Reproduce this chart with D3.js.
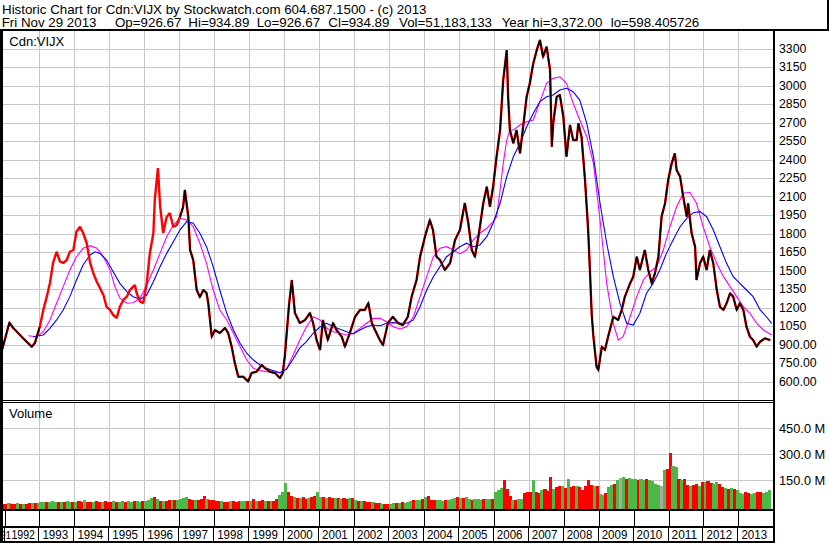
<!DOCTYPE html>
<html><head><meta charset="utf-8">
<script src="https://cdn.jsdelivr.net/npm/d3@7"></script>
<style>
body{margin:0;background:#fff}
svg{display:block}
text{font-family:"Liberation Sans",Arial,sans-serif;fill:#000}
</style>
</head><body>
<svg id="chart" width="830" height="543"></svg>
<script>
// ---------------- DATA ----------------
const titleText = "Historic Chart for Cdn:VIJX by Stockwatch.com 604.687.1500 - (c) 2013";
const infoItems = ["Fri Nov 29 2013","Op=926.67","Hi=934.89","Lo=926.67","Cl=934.89","Vol=51,183,133","Year hi=3,372.00","lo=598.405726"];
const symbolLabel = "Cdn:VIJX";
const volumeLabel = "Volume";

const priceTicks = [3300,3150,3000,2850,2700,2550,2400,2250,2100,1950,1800,1650,1500,1350,1200,1050,900,750,600];
const priceTickLabels = ["3300","3150","3000","2850","2700","2550","2400","2250","2100","1950","1800","1650","1500","1350","1200","1050","900.00","750.00","600.00"];
const volTicks = [450,300,150];
const volTickLabels = ["450.0 M","300.0 M","150.0 M"];
const yearTicks = [1992,1993,1994,1995,1996,1997,1998,1999,2000,2001,2002,2003,2004,2005,2006,2007,2008,2009,2010,2011,2012,2013];
const yearLabels = ["1992","1993","1994","1995","1996","1997","1998","1999","2000","2001","2002","2003","2004","2005","2006","2007","2008","2009","2010","2011","2012","2013"];
const firstPartialLabel = "91";

// price trace [decimal year, price]
const price = [[1991.93,855],[1992.06,993],[1992.14,1077],[1992.25,1034],[1992.39,993],[1992.49,963],[1992.63,923],[1992.78,882],[1992.87,912],[1993.01,1044],[1993.11,1180],[1993.21,1288],[1993.30,1399],[1993.39,1561],[1993.49,1652],[1993.59,1571],[1993.68,1561],[1993.78,1585],[1993.87,1652],[1993.97,1666],[1994.06,1815],[1994.16,1855],[1994.25,1804],[1994.35,1723],[1994.45,1561],[1994.54,1480],[1994.64,1409],[1994.73,1358],[1994.83,1301],[1994.92,1206],[1995.02,1180],[1995.11,1139],[1995.21,1115],[1995.30,1206],[1995.40,1261],[1995.50,1288],[1995.59,1342],[1995.68,1369],[1995.73,1382],[1995.78,1318],[1995.88,1247],[1995.97,1236],[1996.07,1399],[1996.16,1642],[1996.26,1804],[1996.30,2072],[1996.39,2331],[1996.45,2031],[1996.54,1804],[1996.64,1934],[1996.73,1966],[1996.83,1853],[1996.93,1869],[1997.02,1934],[1997.11,2015],[1997.16,2153],[1997.26,1934],[1997.31,1666],[1997.40,1585],[1997.50,1342],[1997.59,1285],[1997.69,1342],[1997.78,1318],[1997.83,1236],[1997.88,1099],[1997.93,963],[1998.02,1018],[1998.16,993],[1998.31,1034],[1998.40,993],[1998.50,882],[1998.59,750],[1998.69,639],[1998.83,639],[1998.97,600],[1999.07,669],[1999.21,679],[1999.36,734],[1999.45,709],[1999.60,679],[1999.74,669],[1999.88,628],[1999.96,669],[2000.02,801],[2000.09,1044],[2000.14,1220],[2000.22,1423],[2000.31,1155],[2000.45,1074],[2000.60,1099],[2000.74,1155],[2000.83,1074],[2000.93,936],[2001.03,855],[2001.11,1099],[2001.25,936],[2001.40,1074],[2001.50,1018],[2001.65,963],[2001.74,882],[2001.88,993],[2002.03,1125],[2002.17,1180],[2002.31,1180],[2002.41,1236],[2002.51,1074],[2002.60,1018],[2002.74,936],[2002.83,896],[2002.97,1074],[2003.11,1125],[2003.26,1074],[2003.40,1058],[2003.54,1125],[2003.65,1288],[2003.79,1423],[2003.89,1612],[2004.03,1774],[2004.17,1909],[2004.26,1828],[2004.36,1612],[2004.46,1585],[2004.60,1504],[2004.75,1561],[2004.89,1747],[2005.03,1828],[2005.17,2047],[2005.27,1885],[2005.37,1666],[2005.46,1612],[2005.56,1774],[2005.70,2047],[2005.80,2179],[2005.89,2017],[2005.98,2179],[2006.08,2423],[2006.18,2639],[2006.27,3045],[2006.37,3288],[2006.41,2909],[2006.46,2639],[2006.56,2531],[2006.65,2639],[2006.75,2450],[2006.84,2666],[2006.94,2909],[2007.03,3018],[2007.13,3180],[2007.23,3288],[2007.32,3369],[2007.41,3233],[2007.51,3315],[2007.61,3126],[2007.66,2504],[2007.70,2693],[2007.80,2909],[2007.89,2923],[2007.99,2747],[2008.08,2423],[2008.18,2680],[2008.27,2558],[2008.37,2558],[2008.42,2693],[2008.51,2585],[2008.61,2234],[2008.70,1828],[2008.75,1504],[2008.80,1153],[2008.85,963],[2008.94,720],[2008.99,693],[2009.09,882],[2009.18,855],[2009.27,963],[2009.42,1125],[2009.56,1099],[2009.66,1180],[2009.75,1288],[2009.90,1396],[2009.99,1450],[2010.09,1612],[2010.18,1504],[2010.32,1666],[2010.42,1504],[2010.52,1396],[2010.61,1477],[2010.71,1612],[2010.80,1936],[2010.90,2045],[2010.99,2234],[2011.09,2369],[2011.18,2450],[2011.23,2315],[2011.33,2261],[2011.42,2098],[2011.52,1936],[2011.56,2045],[2011.66,1802],[2011.76,1693],[2011.80,1423],[2011.90,1558],[2011.99,1612],[2012.09,1504],[2012.18,1666],[2012.28,1558],[2012.38,1342],[2012.47,1206],[2012.57,1180],[2012.66,1234],[2012.76,1315],[2012.85,1288],[2012.95,1180],[2013.04,1234],[2013.14,1180],[2013.23,1044],[2013.33,963],[2013.42,936],[2013.52,882],[2013.62,923],[2013.76,950],[2013.91,935]];

// shorter moving average (magenta)
const maShort = [[1992.68,971],[1992.92,963],[1993.11,1004],[1993.30,1099],[1993.49,1234],[1993.68,1369],[1993.87,1504],[1994.06,1612],[1994.25,1680],[1994.45,1701],[1994.64,1680],[1994.83,1612],[1995.02,1504],[1995.16,1369],[1995.30,1275],[1995.50,1234],[1995.68,1239],[1995.88,1275],[1996.07,1382],[1996.26,1504],[1996.45,1639],[1996.64,1774],[1996.83,1869],[1997.02,1923],[1997.21,1909],[1997.40,1855],[1997.59,1721],[1997.78,1558],[1997.97,1342],[1998.16,1180],[1998.36,1099],[1998.55,991],[1998.74,882],[1998.93,774],[1999.12,707],[1999.31,688],[1999.50,679],[1999.69,671],[1999.88,671],[2000.07,701],[2000.26,815],[2000.45,936],[2000.64,1044],[2000.83,1125],[2001.03,1099],[2001.22,1031],[2001.41,1004],[2001.60,991],[2001.79,977],[2001.98,991],[2002.17,1031],[2002.36,1072],[2002.55,1112],[2002.74,1112],[2002.93,1085],[2003.12,1044],[2003.31,1026],[2003.51,1044],[2003.70,1125],[2003.89,1288],[2004.08,1450],[2004.27,1612],[2004.46,1680],[2004.65,1693],[2004.84,1666],[2005.03,1634],[2005.22,1666],[2005.41,1747],[2005.60,1802],[2005.80,1842],[2005.98,1896],[2006.08,1936],[2006.18,2153],[2006.27,2369],[2006.37,2558],[2006.46,2639],[2006.56,2639],[2006.75,2680],[2006.94,2706],[2007.13,2720],[2007.32,2869],[2007.51,3018],[2007.70,3058],[2007.89,3071],[2008.08,3018],[2008.27,2856],[2008.46,2720],[2008.66,2585],[2008.85,2369],[2009.04,1909],[2009.23,1396],[2009.42,1072],[2009.56,936],[2009.70,963],[2009.90,1125],[2010.09,1288],[2010.28,1423],[2010.47,1490],[2010.66,1531],[2010.85,1666],[2011.04,1855],[2011.23,2017],[2011.42,2126],[2011.61,2134],[2011.80,2045],[2011.99,1855],[2012.18,1693],[2012.38,1558],[2012.57,1450],[2012.76,1369],[2012.95,1288],[2013.14,1206],[2013.33,1153],[2013.52,1072],[2013.71,1018],[2013.95,977]];

// longer moving average (blue)
const maLong = [[1992.82,963],[1993.11,977],[1993.30,1031],[1993.49,1099],[1993.68,1180],[1993.87,1288],[1994.06,1423],[1994.25,1545],[1994.45,1626],[1994.59,1652],[1994.73,1639],[1994.92,1585],[1995.11,1490],[1995.30,1396],[1995.50,1328],[1995.68,1288],[1995.88,1266],[1996.07,1301],[1996.26,1409],[1996.45,1531],[1996.64,1639],[1996.83,1733],[1997.02,1828],[1997.21,1896],[1997.40,1883],[1997.59,1802],[1997.78,1693],[1997.97,1531],[1998.16,1342],[1998.36,1153],[1998.55,1018],[1998.74,910],[1998.93,829],[1999.12,774],[1999.31,734],[1999.50,707],[1999.69,688],[1999.88,671],[2000.07,701],[2000.26,782],[2000.45,872],[2000.64,923],[2000.83,991],[2001.03,1044],[2001.22,1072],[2001.41,1044],[2001.60,1023],[2001.79,1004],[2001.98,985],[2002.17,1018],[2002.36,1044],[2002.55,1058],[2002.74,1052],[2002.93,1072],[2003.12,1077],[2003.31,1072],[2003.51,1072],[2003.70,1099],[2003.89,1206],[2004.08,1342],[2004.27,1450],[2004.46,1531],[2004.65,1612],[2004.84,1652],[2005.03,1693],[2005.22,1721],[2005.41,1693],[2005.60,1707],[2005.80,1774],[2005.98,1883],[2006.18,2045],[2006.37,2261],[2006.56,2423],[2006.75,2531],[2006.94,2666],[2007.13,2775],[2007.32,2869],[2007.51,2909],[2007.70,2923],[2007.89,2963],[2008.08,2977],[2008.27,2950],[2008.46,2882],[2008.66,2693],[2008.85,2423],[2009.04,2045],[2009.23,1721],[2009.42,1450],[2009.61,1234],[2009.80,1072],[2009.99,1058],[2010.18,1153],[2010.37,1315],[2010.56,1396],[2010.75,1504],[2010.94,1639],[2011.13,1747],[2011.33,1855],[2011.52,1923],[2011.71,1969],[2011.90,1977],[2012.09,1936],[2012.28,1828],[2012.47,1693],[2012.66,1558],[2012.85,1450],[2013.04,1396],[2013.23,1342],[2013.42,1288],[2013.62,1180],[2013.80,1125],[2013.95,1072]];

// monthly volume (millions), starting Dec 1991
const volumeStart = 1991 + 11/12;
const volumes = [15,
 15,17,14,16,18,15,14,16,18,17,19,20,
 22,25,24,26,28,25,27,24,26,28,27,25,
 27,28,26,38,27,25,26,28,24,26,28,27,
 26,28,25,27,29,26,28,27,30,28,26,29,
 30,35,48,52,40,33,30,32,35,34,38,36,
 40,50,55,42,38,35,36,45,58,40,38,35,
 30,28,32,27,26,28,30,26,28,30,32,29,
 28,45,30,28,35,30,28,32,30,40,65,80,
 133,80,60,55,50,48,52,45,50,52,58,85,
 55,52,50,52,48,50,48,45,48,45,50,48,
 35,32,30,28,25,24,22,20,18,15,12,12,
 12,18,20,20,22,20,22,30,37,38,36,40,
 55,62,38,35,34,36,32,35,38,45,50,52,
 50,48,52,45,38,42,40,38,42,40,44,45,
 85,95,105,150,100,60,38,36,40,45,75,80,
 85,150,80,75,95,100,90,170,100,110,120,115,
 105,160,110,115,120,110,95,120,150,125,120,115,
 70,65,75,110,125,130,150,165,170,160,165,160,
 155,150,160,150,155,150,145,130,125,120,210,215,
 310,235,225,160,150,155,125,120,125,130,120,140,
 140,145,135,130,140,130,110,105,100,105,100,95,
 75,70,80,75,70,75,80,85,75,80,95];
// month direction: g = up, r = down, n = unchanged
const volumeDirs = ("r" +
 "rgrrgrgrrgrg" + "ggrgggrgrggr" + "grrgrrgrrgrr" + "rgrggrggrggr" +
 "gggrgrgrrgrg" + "gggrrgrrrgrr" + "rrgrrgrrrggr" + "grgrrgrgrrgg" +
 "grrgrgrrgrrg" + "grgrrgrgrrgr" + "grgrrrgrrgrr" + "ggrgrgggrggr" +
 "grrrgggrgggr" + "grggrgggrggr" + "gggrrrgrggrr" + "rgrrgrrrgrrg" +
 "rgrrgrrrrrgr" + "ggrggrgngrgg" + "grggrggggngr" + "rggrgrrgrrgr" +
 "grrggrrgrgrg" + "ggrrggrrgggr").split("");

// ---------------- LAYOUT ----------------
const svg = d3.select("#chart");
const plotL = 2, plotR = 774;
const priceTop = 31, priceBot = 400;
const volTop = 402, volBot = 509;
const FONT = '"Liberation Sans", Arial, sans-serif';

const x = d3.scaleLinear().domain([1992, 2014]).range([4.5, 773.4]);
const y = d3.scaleLinear().domain([450, 3450]).range([400, 30]);
const yv = d3.scaleLinear().domain([0, 450]).range([506.3, 428.3]);
const colors = {g:"#4cb848", r:"#ff0000", n:"#a8a8a8"};

svg.append("rect").attr("width",830).attr("height",543).attr("fill","#fff");

// header
svg.append("text").attr("x",2).attr("y",13.5).style("font-size","13.33px").text(titleText);
const infoX = [1.7,115,188.3,256.7,328.3,399,501.7,610.7];
svg.append("g").selectAll("text").data(infoItems).join("text")
  .attr("x",(d,i)=>infoX[i]).attr("y",27.3).style("font-size","13.33px").text(d=>d);

// clip paths
svg.append("clipPath").attr("id","pclip").append("rect")
  .attr("x",plotL).attr("y",priceTop).attr("width",plotR-plotL).attr("height",priceBot-priceTop);
svg.append("clipPath").attr("id","vclip").append("rect")
  .attr("x",plotL).attr("y",volTop).attr("width",plotR-plotL).attr("height",volBot-volTop);

const gridCol = "#c8c8c8";
const px = v => Math.round(v)+0.5;

// price gridlines
const pg = svg.append("g").attr("shape-rendering","crispEdges");
pg.selectAll("line.h").data(priceTicks).join("line").attr("class","h")
  .attr("x1",plotL).attr("x2",plotR).attr("y1",d=>px(y(d))).attr("y2",d=>px(y(d)))
  .attr("stroke",gridCol);
pg.selectAll("line.v").data(yearTicks.slice(1)).join("line").attr("class","v")
  .attr("x1",d=>px(x(d))).attr("x2",d=>px(x(d))).attr("y1",priceTop).attr("y2",priceBot)
  .attr("stroke",gridCol);

// volume gridlines
const vg = svg.append("g").attr("shape-rendering","crispEdges");
vg.selectAll("line.h").data(volTicks).join("line").attr("class","h")
  .attr("x1",plotL).attr("x2",plotR).attr("y1",d=>px(yv(d))).attr("y2",d=>px(yv(d)))
  .attr("stroke",gridCol);
vg.selectAll("line.v").data(yearTicks.slice(1)).join("line").attr("class","v")
  .attr("x1",d=>px(x(d))).attr("x2",d=>px(x(d))).attr("y1",volTop).attr("y2",volBot)
  .attr("stroke",gridCol);

// volume bars
const vb = svg.append("g").attr("clip-path","url(#vclip)").attr("shape-rendering","crispEdges");
vb.selectAll("rect").data(volumes).join("rect")
  .attr("x",(d,i)=>x(volumeStart+i/12))
  .attr("width",(d,i)=>x(volumeStart+(i+1)/12)-x(volumeStart+i/12)+0.3)
  .attr("y",d=>yv(d)).attr("height",d=>volBot-yv(d))
  .attr("fill",(d,i)=>colors[volumeDirs[i]]);

// price lines
const line = d3.line().x(d=>x(d[0])).y(d=>y(d[1]));
const pl = svg.append("g").attr("clip-path","url(#pclip)");
pl.append("path").datum(maShort).attr("d",line).attr("fill","none").attr("stroke","#ff00ff").attr("stroke-width",1.1);
pl.append("path").datum(maLong).attr("d",line).attr("fill","none").attr("stroke","#0000ff").attr("stroke-width",1.1);
pl.append("path").datum(price).attr("d",line).attr("fill","none").attr("stroke","#ff0000").attr("stroke-width",2.4).attr("stroke-linejoin","bevel");
pl.append("path").datum(price.filter(d=>d[0]<1993.05)).attr("d",line).attr("fill","none").attr("stroke","#000").attr("stroke-width",1.6);
pl.append("path").datum(price.filter(d=>d[0]>1996.95)).attr("d",line).attr("fill","none").attr("stroke","#000").attr("stroke-width",1.6);

// panel labels
svg.append("text").attr("x",9.3).attr("y",46.3).style("font-size","13px").text(symbolLabel);
svg.append("text").attr("x",9).attr("y",417.7).style("font-size","13px").text(volumeLabel);

// price axis (right)
const pAxis = d3.axisRight(y).tickValues(priceTicks)
  .tickFormat((d,i)=>priceTickLabels[i]).tickSize(0).tickPadding(5);
const pa = svg.append("g").attr("transform",`translate(${plotR},0)`).call(pAxis);
pa.select(".domain").remove();
pa.selectAll("text").style("font-family",FONT).style("font-size","12.3px").attr("fill","#000");

// volume axis
const vAxis = d3.axisRight(yv).tickValues(volTicks)
  .tickFormat((d,i)=>volTickLabels[i]).tickSize(0).tickPadding(5);
const va = svg.append("g").attr("transform",`translate(${plotR},0)`).call(vAxis);
va.select(".domain").remove();
va.selectAll("text").style("font-family",FONT).style("font-size","12.8px").attr("fill","#000");

// time axis rows
const ta = svg.append("g").attr("shape-rendering","crispEdges");
ta.selectAll("line.t").data(yearTicks).join("line").attr("class","t")
  .attr("x1",d=>px(x(d))).attr("x2",d=>px(x(d))).attr("y1",volBot).attr("y2",527)
  .attr("stroke","#000");
ta.selectAll("line.s").data(yearTicks).join("line").attr("class","s")
  .attr("x1",d=>px(x(d))-1).attr("x2",d=>px(x(d))-1).attr("y1",527).attr("y2",541)
  .attr("stroke","#000");
svg.append("g").selectAll("text").data(yearLabels).join("text")
  .attr("x",(d,i)=>i===0 ? 11.5 : x(yearTicks[i])+3).attr("y",539.3)
  .attr("textLength",(d,i)=>i===0 ? 23.5 : 25.7).attr("lengthAdjust","spacingAndGlyphs")
  .style("font-size","13.3px").text(d=>d);
svg.append("text").attr("x",0).attr("y",539.3)
  .style("font-size","10px").text(firstPartialLabel);

// borders
const bd = svg.append("g").attr("fill","#000").attr("shape-rendering","crispEdges");
bd.append("rect").attr("x",0).attr("y",29).attr("width",828).attr("height",2);        // top of plot
bd.append("rect").attr("x",0).attr("y",29).attr("width",2.5).attr("height",514);      // left
bd.append("rect").attr("x",773).attr("y",29).attr("width",2).attr("height",514);      // right plot edge
bd.append("rect").attr("x",0).attr("y",400).attr("width",775).attr("height",1);        // price bottom
bd.append("rect").attr("x",0).attr("y",402).attr("width",775).attr("height",1);        // volume top
bd.append("rect").attr("x",0).attr("y",509).attr("width",775).attr("height",2);        // volume bottom
bd.append("rect").attr("x",0).attr("y",526).attr("width",775).attr("height",2);        // tick row bottom
bd.append("rect").attr("x",0).attr("y",541).attr("width",775).attr("height",2);        // bottom
bd.append("rect").attr("x",826.5).attr("y",0).attr("width",2).attr("height",31);      // header right
</script>
</body></html>
